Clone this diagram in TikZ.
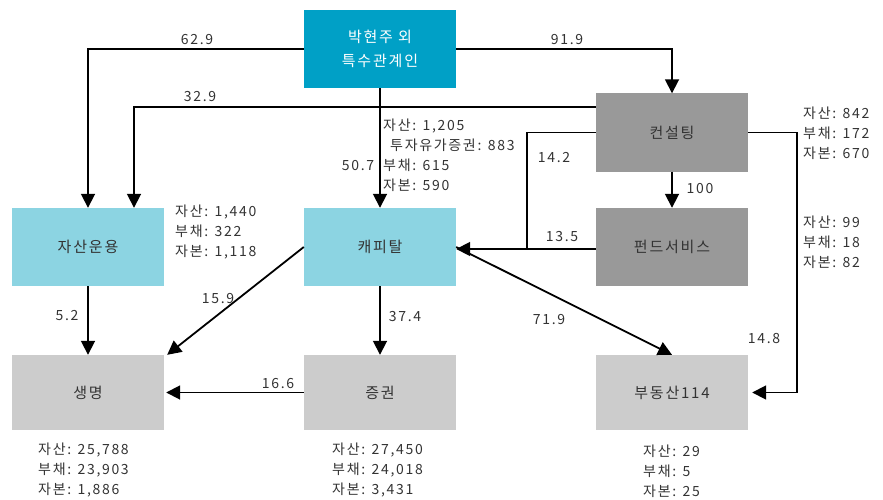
\documentclass[tikz,border=0pt]{standalone}
\usepackage{fontspec}
\setmainfont[LetterSpace=12]{Noto Sans CJK KR}
\usetikzlibrary{arrows.meta}
\definecolor{topblue}{HTML}{00A0C6}
\definecolor{lightblue}{HTML}{8CD4E2}
\definecolor{darkgray}{HTML}{999999}
\definecolor{lightgray}{HTML}{CCCCCC}
\definecolor{txt}{HTML}{333333}
\begin{document}
\begin{tikzpicture}[x=1pt,y=-1pt,
  box/.style={minimum width=152pt, minimum height=78pt, inner sep=0pt, font=\fontsize{15}{24}\selectfont, text=txt, align=center},
  lowbox/.style={box, minimum height=75pt},
  edge/.style={line width=1.8pt, draw=black, -{Triangle[width=14pt,length=14pt]}},
  plain/.style={line width=1.8pt, draw=black},
  lbl/.style={font=\fontsize{14}{16}\selectfont, text=txt, inner sep=0pt},
  info/.style={font=\fontsize{14}{20}\selectfont, text=txt, inner sep=0pt, align=left, anchor=west}]
\useasboundingbox (0,0) rectangle (883,500);

% boxes
\node[box, fill=topblue, text=white] (top) at (380,49) {박현주 외\\특수관계인};
\node[box, fill=darkgray] (con) at (672,132.5) {컨설팅};
\node[box, fill=lightblue] (asset) at (88,247) {자산운용};
\node[box, fill=lightblue] (cap) at (380,247) {캐피탈};
\node[box, fill=darkgray] (fund) at (672,247) {펀드서비스};
\node[lowbox, fill=lightgray] (life) at (88,392.5) {생명};
\node[lowbox, fill=lightgray] (sec) at (380,392.5) {증권};
\node[lowbox, fill=lightgray] (re) at (672,392.5) {부동산114};

% connectors
\draw[edge] (top.west) -| (asset.north);
\draw[edge] (top.east) -| (con.north);
\draw[edge] ([yshift=25.5pt]con.west) -| ([xshift=46pt]asset.north);
\draw[edge] (top.south) -- (cap.north);
\coordinate (j142) at (527,249);
\draw[plain] (con.west) -| (j142);
\draw[edge] ([yshift=-2pt]fund.west) -- ([yshift=-2pt]cap.east);
\draw[edge] (con.south) -- (fund.north);
\coordinate (r148) at (797,392.5);
\draw[edge] (con.east) -| (r148) -- ([xshift=4pt]re.east);
\draw[edge] (asset.south) -- (life.north);
\draw[edge] (cap.west) -- ([xshift=3pt]life.north east);
\draw[edge] (cap.south) -- (sec.north);
\draw[edge] (sec.west) -- ([xshift=2pt]life.east);
\draw[edge] (cap.east) -- (re.north);

% connector labels
\node[lbl] (l629) at (197,40) {62.9};
\node[lbl] (l919) at (567,40) {91.9};
\node[lbl] (l329) at (200,97) {32.9};
\node[lbl] (l507) at (358,166) {50.7};
\node[lbl] (l142) at (554,158) {14.2};
\node[lbl] (l100) at (700,189) {100};
\node[lbl] (l135) at (562,237) {13.5};
\node[lbl] (l719) at (549,320) {71.9};
\node[lbl] (l148) at (764,339) {14.8};
\node[lbl] (l52) at (67,316) {5.2};
\node[lbl] (l159) at (218,299) {15.9};
\node[lbl] (l374) at (405,317) {37.4};
\node[lbl] (l166) at (278,384) {16.6};

% info blocks
\node[info] (icap) at (383,155) {자산: 1,205\\\hspace{7pt}투자유가증권: 883\\부채: 615\\자본: 590};
\node[info] (iasset) at (175,232) {자산: 1,440\\부채: 322\\자본: 1,118};
\node[info] (icon) at (803,133) {자산: 842\\부채: 172\\자본: 670};
\node[info] (ifund) at (803,242) {자산: 99\\부채: 18\\자본: 82};
\node[info] (ilife) at (38,470) {자산: 25,788\\부채: 23,903\\자본: 1,886};
\node[info] (isec) at (332,470) {자산: 27,450\\부채: 24,018\\자본: 3,431};
\node[info] (ire) at (643,471) {자산: 29\\부채: 5\\자본: 25};
\end{tikzpicture}
\end{document}
